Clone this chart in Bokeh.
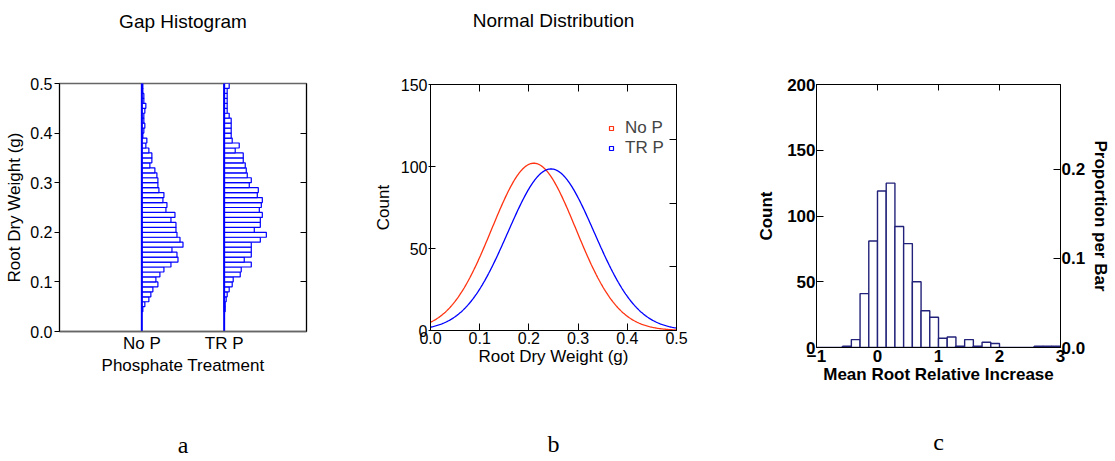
import numpy as np
from bokeh.plotting import figure
from bokeh.layouts import row, column
from bokeh.models import (Range1d, LinearAxis, FixedTicker, Legend, LegendItem,
                          NumeralTickFormatter)
from bokeh.embed import file_html
from bokeh.resources import INLINE

# ---------------- data ----------------
# Panel a: gap histogram, counts per 0.01 g bin, from the lowest bin (0.04-0.05) upward
gap_categories = ["No P", "TR P"]
gap_bin_start = 0.04
gap_bin_width = 0.01
gap_no_p = [1, 3, 7, 9, 11, 16, 14, 18, 22, 29, 36, 35, 30, 41, 38, 35, 34, 34, 29, 33,
            24, 25, 21, 22, 17, 16, 16, 15, 13, 8, 10, 10, 7, 4, 5, 1, 2, 3, 2, 2,
            3, 4, 2, 2, 1, 1]
gap_tr_p = [1, 1, 2, 3, 5, 8, 9, 16, 17, 27, 20, 27, 27, 27, 36, 42, 30, 36, 36, 38,
            35, 37, 38, 33, 34, 25, 27, 23, 22, 21, 19, 19, 11, 15, 8, 7, 7, 7, 7, 5,
            3, 3, 3, 3, 3, 5]

# Panel b: fitted normal distributions (mean, sd in g; peak height in counts)
norm_labels = ["No P", "TR P"]
norm_means = [0.21, 0.245]
norm_sds = [0.0856, 0.0879]
norm_peaks = [102.0, 98.5]
norm_colors = ["#ff3311", "#0000ff"]

# Panel c: histogram of mean root relative increase, bins of width 1/7 from -1 to 3
inc_bin_start = -1.0
inc_bin_width = 1.0 / 7.0
inc_counts = [0, 0, 0, 1, 6, 41, 81, 119, 125, 92, 79, 50, 28, 23, 7, 8, 1, 6, 1, 4,
              3, 0, 0, 0, 0, 1, 1, 1]

panel_titles = ["Gap Histogram", "Normal Distribution"]
panel_letters = ["a", "b", "c"]

FONT = "Liberation Sans"
SERIF = "Liberation Serif"
H = 460


def style_axis(ax, size="16px", label_size="17px", bold=False):
    ax.major_label_text_font = FONT
    ax.major_label_text_font_size = size
    ax.major_label_text_color = "black"
    ax.axis_label_text_font = FONT
    ax.axis_label_text_font_size = label_size
    ax.axis_label_text_color = "black"
    ax.axis_label_text_font_style = "bold" if bold else "normal"
    ax.major_label_text_font_style = "bold" if bold else "normal"
    ax.axis_line_color = "black"
    ax.major_tick_line_color = "black"
    ax.minor_tick_line_color = None


def blank_axis(ax):
    # tick marks only: labels are not painted
    ax.major_label_text_font_size = "1px"
    ax.major_label_text_color = None
    ax.major_label_standoff = 0
    ax.axis_label = None


def text_axis(p, side, text, font, size, standoff):
    ax = LinearAxis(ticker=FixedTicker(ticks=[]), axis_label=text,
                    axis_label_standoff=standoff, axis_label_text_font=font,
                    axis_label_text_font_size=size, axis_label_text_font_style="normal",
                    axis_label_text_color="black", axis_line_color=None,
                    major_tick_line_color=None, minor_tick_line_color=None,
                    major_label_standoff=0, major_tick_in=0, major_tick_out=0,
                    major_label_text_font_size="1px", major_label_text_color=None)
    p.add_layout(ax, side)


# ---------------- panel a ----------------
pa = figure(width=370, height=H, x_range=Range1d(0, 3), y_range=Range1d(0, 0.5),
            output_backend="svg", toolbar_location=None,
            min_border_left=59, min_border_right=64, min_border_top=83, min_border_bottom=129)
pa.grid.visible = False
pa.outline_line_color = "#666666"
pa.outline_line_width = 1.5

gap_scale = 1.0 / 82.0
for ci, counts in enumerate([gap_no_p, gap_tr_p]):
    base = ci + 1
    n = len(counts)
    yc = [gap_bin_start + (i + 0.5) * gap_bin_width for i in range(n)]
    right = [base + c * gap_scale for c in counts]
    pa.hbar(y=yc, height=gap_bin_width, left=base, right=right,
            fill_color="white", line_color="#0000ff", line_width=1.2)
    pa.segment(x0=[base], y0=[pa.y_range.start], x1=[base], y1=[pa.y_range.end],
               line_color="#0000ff", line_width=2)

style_axis(pa.yaxis[0])
pa.yaxis.ticker = FixedTicker(ticks=[0.0, 0.1, 0.2, 0.3, 0.4, 0.5])
pa.yaxis.formatter = NumeralTickFormatter(format="0.0")
pa.yaxis.axis_label = "Root Dry Weight (g)"
pa.yaxis.major_tick_in = 0
pa.yaxis.major_tick_out = 5
pa.yaxis.major_label_standoff = 2
pa.yaxis.axis_label_standoff = 3

style_axis(pa.xaxis[0], size="17px")
pa.xaxis.ticker = FixedTicker(ticks=[1, 2])
pa.xaxis.major_label_overrides = {1: gap_categories[0], 2: gap_categories[1]}
pa.xaxis.axis_label = "Phosphate Treatment"
pa.xaxis.major_tick_in = 0
pa.xaxis.major_tick_out = 0
pa.xaxis.major_label_standoff = 2
pa.xaxis.axis_label_standoff = 0
pa.xaxis.axis_line_color = "#666666"
pa.xaxis.axis_line_width = 1.5

ra = LinearAxis(ticker=FixedTicker(ticks=[0.1, 0.2, 0.3, 0.4]))
style_axis(ra)
blank_axis(ra)
ra.major_tick_in = 6
ra.major_tick_out = 0
pa.add_layout(ra, "right")

text_axis(pa, "above", panel_titles[0], FONT, "19px", 52)
text_axis(pa, "below", panel_letters[0], SERIF, "24px", 54)

# ---------------- panel b ----------------
pb = figure(width=380, height=H, x_range=Range1d(0, 0.5), y_range=Range1d(0, 150),
            output_backend="svg", toolbar_location=None,
            min_border_left=59, min_border_right=74, min_border_top=84, min_border_bottom=130)
pb.grid.visible = False
pb.outline_line_color = "black"

xs = np.linspace(pb.x_range.start, pb.x_range.end, 301)
legend_items = []
for lab, m, s, pk, col in zip(norm_labels, norm_means, norm_sds, norm_peaks, norm_colors):
    ys = pk * np.exp(-0.5 * ((xs - m) / s) ** 2)
    pb.line(xs, ys, line_color=col, line_width=1.3)
    mk = pb.scatter(x=np.array([m]), y=np.array([np.nan]), marker="square", size=9,
                    fill_color=None, line_color=col, line_width=1.2)
    legend_items.append(LegendItem(label=lab, renderers=[mk]))

leg = Legend(items=legend_items, location=(176, 172), border_line_color=None,
             background_fill_alpha=0, padding=0, margin=0, spacing=0,
             glyph_width=10, glyph_height=12, label_standoff=9,
             label_text_font=FONT, label_text_font_size="17px", label_height=18)
pb.add_layout(leg, "center")

style_axis(pb.yaxis[0])
pb.yaxis.ticker = FixedTicker(ticks=[0, 50, 100, 150])
pb.yaxis.axis_label = "Count"
pb.yaxis.major_tick_in = 5
pb.yaxis.major_tick_out = 2
pb.yaxis.major_label_standoff = 1
pb.yaxis.axis_label_standoff = 5

style_axis(pb.xaxis[0])
pb.xaxis.ticker = FixedTicker(ticks=[0.0, 0.1, 0.2, 0.3, 0.4, 0.5])
pb.xaxis.formatter = NumeralTickFormatter(format="0.0")
pb.xaxis.axis_label = "Root Dry Weight (g)"
pb.xaxis.major_tick_in = 7
pb.xaxis.major_tick_out = 0
pb.xaxis.major_label_standoff = 1
pb.xaxis.axis_label_standoff = 0

tb = LinearAxis(ticker=FixedTicker(ticks=[0.1, 0.2, 0.3, 0.4]))
style_axis(tb)
blank_axis(tb)
tb.major_tick_in = 7
tb.major_tick_out = 0
pb.add_layout(tb, "above")

rb = LinearAxis(ticker=FixedTicker(ticks=[38.8, 77.6, 116.4]))
style_axis(rb)
blank_axis(rb)
rb.major_tick_in = 7
rb.major_tick_out = 0
pb.add_layout(rb, "right")

text_axis(pb, "above", panel_titles[1], FONT, "19px", 54)
text_axis(pb, "below", panel_letters[1], SERIF, "24px", 62)

# ---------------- panel c ----------------
n_total = sum(inc_counts)
pc = figure(width=363, height=H, x_range=Range1d(-1, 3), y_range=Range1d(0, 200),
            output_backend="svg", toolbar_location=None,
            min_border_left=66, min_border_right=48, min_border_top=84, min_border_bottom=113)
pc.grid.visible = False
pc.outline_line_color = "black"
pc.extra_y_ranges = {"prop": Range1d(0, 200.0 / n_total)}

xc = [inc_bin_start + (i + 0.5) * inc_bin_width for i in range(len(inc_counts))]
pc.vbar(x=xc, width=inc_bin_width, top=inc_counts, bottom=0,
        fill_color="white", line_color="#22227a", line_width=1.4)

style_axis(pc.yaxis[0], "17px", "17px", True)
pc.yaxis.ticker = FixedTicker(ticks=[0, 50, 100, 150, 200])
pc.yaxis.axis_label = "Count"
pc.yaxis.major_tick_in = 7
pc.yaxis.major_tick_out = 0
pc.yaxis.major_label_standoff = 1
pc.yaxis.axis_label_standoff = 8

style_axis(pc.xaxis[0], "17px", "17px", True)
pc.xaxis.ticker = FixedTicker(ticks=[-1, 0, 1, 2, 3])
pc.xaxis.axis_label = "Mean Root Relative Increase"
pc.xaxis.major_tick_in = 0
pc.xaxis.major_tick_out = 0
pc.xaxis.major_label_standoff = 2
pc.xaxis.axis_label_standoff = 0

tc = LinearAxis(ticker=FixedTicker(ticks=[0, 1, 2]))
style_axis(tc)
blank_axis(tc)
tc.major_tick_in = 6
tc.major_tick_out = 0
pc.add_layout(tc, "above")

rc = LinearAxis(y_range_name="prop", ticker=FixedTicker(ticks=[0.0, 0.1, 0.2]),
                formatter=NumeralTickFormatter(format="0.0"))
style_axis(rc, "17px", "17px", True)
rc.axis_label = "Proportion per Bar"
rc.major_tick_in = 7
rc.major_tick_out = 0
rc.major_label_standoff = 1
rc.axis_label_standoff = 3
pc.add_layout(rc, "right")

text_axis(pc, "below", panel_letters[2], SERIF, "24px", 42)

layout = row(column(pa), column(pb), column(pc), spacing=0)
open("out.html", "w").write(file_html(layout, INLINE))
